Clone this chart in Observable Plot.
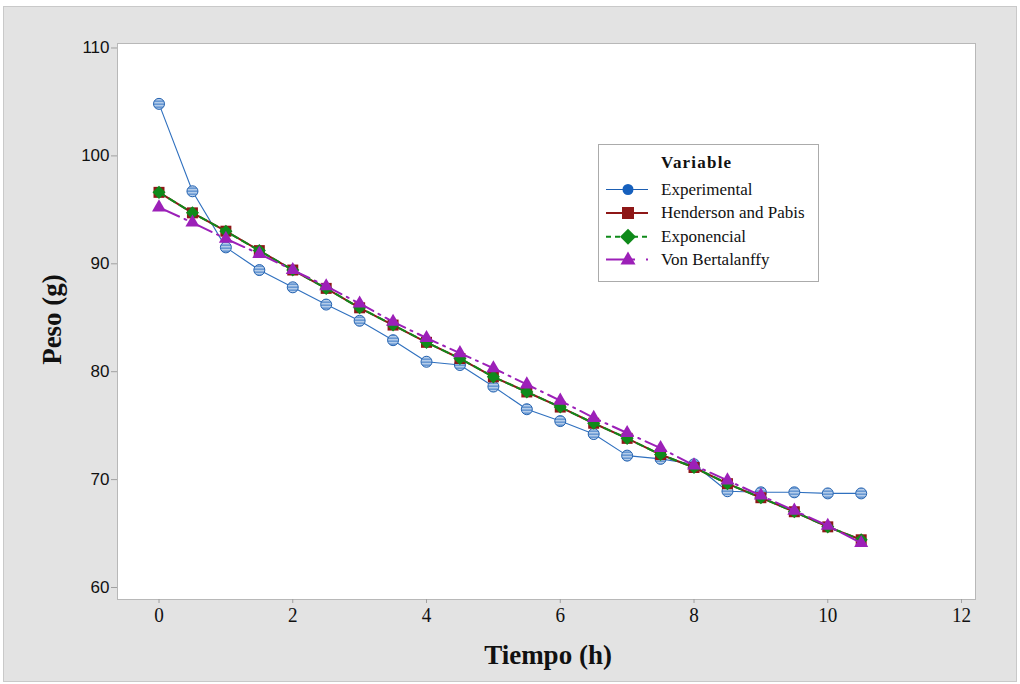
<!DOCTYPE html>
<html>
<head>
<meta charset="utf-8">
<script src="https://cdn.jsdelivr.net/npm/d3@7"></script>
<script src="https://cdn.jsdelivr.net/npm/@observablehq/plot@0.6"></script>
<style>
  html, body { margin: 0; padding: 0; background: #ffffff; }
  body { width: 1020px; height: 684px; position: relative; overflow: hidden; }
  #panel { position: absolute; left: 3px; top: 6px; width: 1014px; height: 676px; box-sizing: border-box;
           border: 1px solid #c9c9c9; background: #e3e3e3; }
  #chart { position: absolute; left: 0; top: 0; }
  #legend { position: absolute; left: 598px; top: 144px; width: 221px; height: 138px; box-sizing: border-box;
            border: 1px solid #ababab; background: #ffffff; }
</style>
</head>
<body>
<div id="panel"><div id="chart"></div></div>
<div id="legend"></div>
<script>
// ---- data ----
const tiempo = [0, 0.5, 1, 1.5, 2, 2.5, 3, 3.5, 4, 4.5, 5, 5.5, 6, 6.5, 7, 7.5, 8, 8.5, 9, 9.5, 10, 10.5];
const experimental = [105.1, 97.0, 91.8, 89.7, 88.1, 86.5, 85.0, 83.2, 81.2, 80.9, 78.9, 76.8, 75.7, 74.5, 72.5, 72.2, 71.7, 69.2, 69.1, 69.1, 69.0, 69.0];
const henderson = [96.9, 95.0, 93.3, 91.5, 89.7, 88.0, 86.2, 84.6, 83.0, 81.5, 79.8, 78.4, 77.0, 75.5, 74.1, 72.6, 71.4, 69.9, 68.6, 67.3, 65.9, 64.7];
const exponencial = [96.9, 95.0, 93.3, 91.5, 89.7, 88.0, 86.2, 84.6, 83.0, 81.5, 79.8, 78.4, 77.0, 75.5, 74.1, 72.6, 71.4, 69.9, 68.6, 67.3, 65.9, 64.7];
const vonBertalanffy = [95.5, 94.1, 92.6, 91.2, 89.7, 88.2, 86.6, 84.9, 83.4, 82.0, 80.6, 79.1, 77.6, 76.0, 74.6, 73.2, 71.6, 70.2, 68.8, 67.4, 66.0, 64.4];
const seriesNames = ["Experimental", "Henderson and Pabis", "Exponencial", "Von Bertalanffy"];
const xTicks = [0, 2, 4, 6, 8, 10, 12];
const yTicks = [60, 70, 80, 90, 100, 110];
const xLabel = "Tiempo (h)";
const yLabel = "Peso (g)";
const legendTitle = "Variable";

const rows = vals => tiempo.map((t, i) => ({t, v: vals[i]}));
const expRows = rows(experimental);
const henRows = rows(henderson);
const exoRows = rows(exponencial);
const vonRows = rows(vonBertalanffy);

const C = {exp: "#2f70bf", expStroke: "#2563b0", hen: "#8e1717", exo: "#0f8a1a", von: "#9c20b8"};

const chart = Plot.plot({
  width: 1012,
  height: 674,
  marginLeft: 113,
  marginRight: 41,
  marginTop: 36,
  marginBottom: 82,
  style: {background: "#e3e3e3", overflow: "visible"},
  x: {domain: [-0.6206, 12.209]},
  y: {domain: [59.166, 110.695]},
  marks: [
    Plot.frame({fill: "#ffffff", stroke: "#b8b8b8"}),
    Plot.axisY({ticks: yTicks, tickSize: 6, tickPadding: 2, fontSize: 17, fontFamily: "'Liberation Sans Narrow', 'Liberation Sans', sans-serif", stroke: "#a0a0a0", fill: "#111", dy: -3, label: null}),
    Plot.axisX({ticks: xTicks, tickSize: 4, tickPadding: 3, fontSize: 22, fontFamily: "Liberation Serif", stroke: "#a0a0a0", fill: "#111", label: null}),
    Plot.text([yLabel], {text: d => d, frameAnchor: "left", dx: -65, dy: -2, rotate: -90, textAnchor: "middle", lineAnchor: "middle", fontSize: 27, fontWeight: "bold", fontFamily: "Liberation Serif", fill: "#111"}),
    Plot.text([xLabel], {text: d => d, frameAnchor: "bottom", dx: 1.5, dy: 64, textAnchor: "middle", lineAnchor: "bottom", fontSize: 27, fontWeight: "bold", fontFamily: "Liberation Serif", fill: "#111"}),
    // Experimental
    Plot.line(expRows, {x: "t", y: "v", stroke: C.exp, strokeWidth: 1.1}),
    Plot.dot(expRows, {x: "t", y: "v", r: 5.5, fill: "url(#hatch)", stroke: C.expStroke, strokeWidth: 1}),
    // Henderson and Pabis
    Plot.line(henRows, {x: "t", y: "v", stroke: C.hen, strokeWidth: 2}),
    Plot.dot(henRows, {x: "t", y: "v", symbol: "square", r: 6.2, fill: C.hen}),
    // Exponencial
    Plot.line(exoRows, {x: "t", y: "v", stroke: C.exo, strokeWidth: 2, strokeDasharray: "7,5"}),
    Plot.dot(exoRows, {x: "t", y: "v", symbol: "diamond2", r: 5.9, fill: C.exo, stroke: "none"}),
    // Von Bertalanffy
    Plot.line(vonRows, {x: "t", y: "v", stroke: C.von, strokeWidth: 2, strokeDasharray: "22,6,2,6"}),
    Plot.dot(vonRows, {x: "t", y: "v", symbol: "triangle", r: 5.2, fill: C.von})
  ]
});

// hatch pattern for the experimental markers
const ns = "http://www.w3.org/2000/svg";
const defs = document.createElementNS(ns, "defs");
defs.innerHTML = `<pattern id="hatch" patternUnits="userSpaceOnUse" width="6" height="3">
  <rect width="6" height="3" fill="#d3e2f4"></rect>
  <rect width="6" height="1.4" fill="#3a78c4"></rect>
</pattern>`;
chart.insertBefore(defs, chart.firstChild);
// condense the x tick labels slightly, like the reference's narrow serif digits
d3.select(chart).selectAll("g[aria-label='x-axis tick label'] text").each(function () {
  const t = this.getAttribute("transform") || "";
  this.setAttribute("transform", t + " scale(0.87,1)");
});
document.getElementById("chart").appendChild(chart);

// legend (HTML box with small SVG glyphs)
const lg = d3.select("#legend").append("svg").attr("width", 219).attr("height", 136)
  .style("font-family", "Liberation Serif");
lg.append("text").attr("x", 62).attr("y", 22.5).attr("font-size", 17).attr("font-weight", "bold")
  .attr("letter-spacing", 1.2).attr("fill", "#111").text(legendTitle);
const rowY = [44.5, 68, 91.8, 114.5];
const x0 = 7, x1 = 49, xm = 29;
seriesNames.forEach((name, i) => {
  const y = rowY[i];
  const g = lg.append("g");
  if (i === 0) {
    g.append("line").attr("x1", x0).attr("x2", x1).attr("y1", y).attr("y2", y).attr("stroke", "#1d5fb2").attr("stroke-width", 1.2);
    g.append("circle").attr("cx", xm).attr("cy", y).attr("r", 5.5).attr("fill", "#1660bd");
  } else if (i === 1) {
    g.append("line").attr("x1", x0).attr("x2", x1).attr("y1", y).attr("y2", y).attr("stroke", C.hen).attr("stroke-width", 2);
    g.append("rect").attr("x", xm - 6).attr("y", y - 6).attr("width", 12).attr("height", 12).attr("fill", C.hen);
  } else if (i === 2) {
    g.append("line").attr("x1", x0).attr("x2", x1).attr("y1", y).attr("y2", y).attr("stroke", C.exo).attr("stroke-width", 2).attr("stroke-dasharray", "5,4");
    g.append("path").attr("d", `M${xm},${y - 8}L${xm + 8},${y}L${xm},${y + 8}L${xm - 8},${y}Z`).attr("fill", C.exo);
  } else {
    g.append("line").attr("x1", x0).attr("x2", 36).attr("y1", y).attr("y2", y).attr("stroke", C.von).attr("stroke-width", 2);
    g.append("line").attr("x1", 47).attr("x2", 49).attr("y1", y).attr("y2", y).attr("stroke", C.von).attr("stroke-width", 2);
    g.append("path").attr("d", `M${xm},${y - 8}L${xm + 7.5},${y + 5}L${xm - 7.5},${y + 5}Z`).attr("fill", C.von);
  }
  lg.append("text").attr("x", 62).attr("y", y + 5).attr("font-size", 17).attr("fill", "#111").text(name);
});
</script>
</body>
</html>
